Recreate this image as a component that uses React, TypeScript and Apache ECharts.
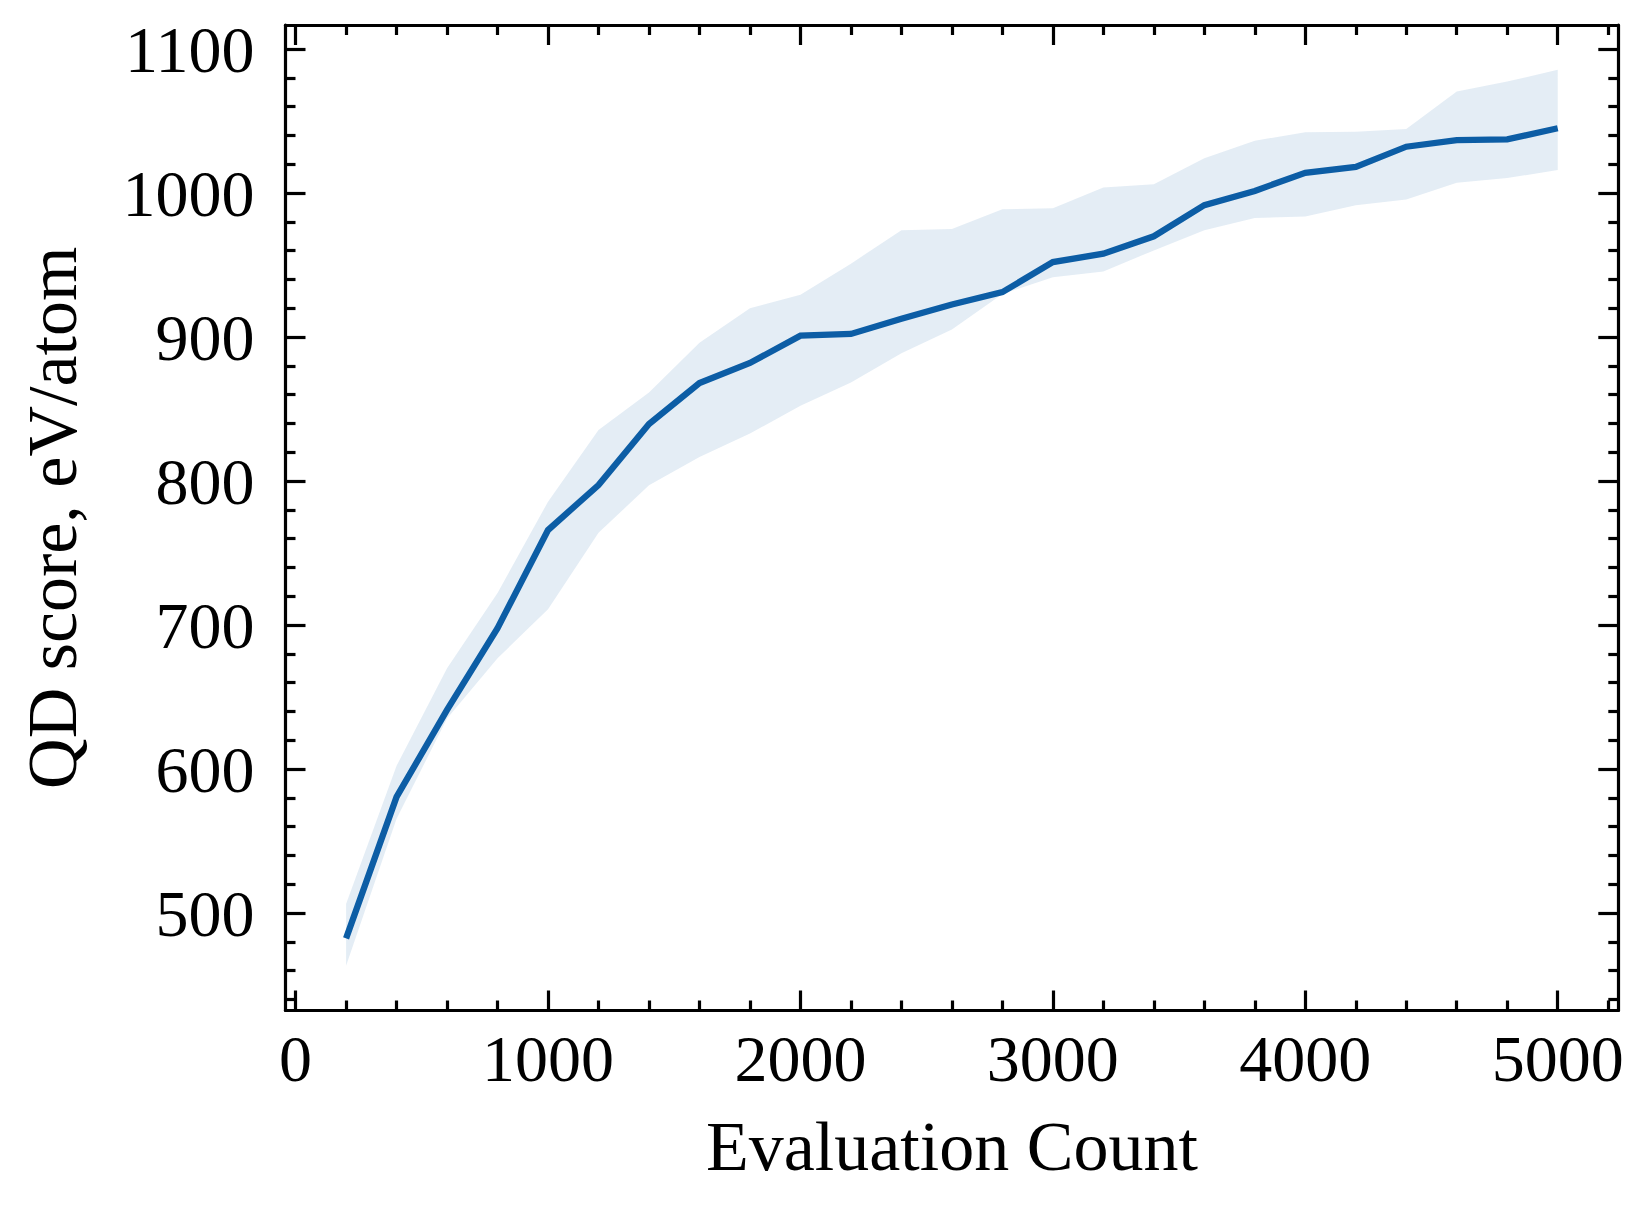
import React, { useEffect, useRef } from "react";
import * as echarts from "echarts";

// ---- Data ----
const evalCounts = [200, 400, 600, 800, 1000, 1200, 1400, 1600, 1800, 2000, 2200, 2400, 2600, 2800, 3000, 3200, 3400, 3600, 3800, 4000, 4200, 4400, 4600, 4800, 5000];
const meanScore = [482.5, 580.7, 641.1, 697.9, 766, 797.3, 839.6, 868.1, 882, 901, 902.2, 912.7, 922.6, 931.2, 952.1, 957.9, 970, 991.6, 1001.5, 1014.1, 1018.2, 1032.2, 1036.8, 1037.3, 1045];
const upperScore = [506.4, 602.3, 670, 722.3, 785.7, 835.4, 861.6, 896, 920.1, 929.4, 951, 974.2, 975.1, 988.8, 989.5, 1003.9, 1006.2, 1024.1, 1036.4, 1042.2, 1042.6, 1044.5, 1070.5, 1077.4, 1085.6];
const lowerScore = [463.5, 565.6, 635.2, 677, 711, 764.1, 797.1, 816.8, 833, 852.3, 868.5, 888.7, 905.2, 930, 941.6, 945.6, 960.2, 974.2, 982.7, 983.7, 991.6, 995.5, 1007.1, 1010.4, 1016];

// ---- Tick labels ----
const xMajorTicks = [0, 1000, 2000, 3000, 4000, 5000];
const yMajorTicks = [500, 600, 700, 800, 900, 1000, 1100];

const xLabel = "Evaluation Count";
const yLabel = "QD score, eV/atom";

const LINE_COLOR = "#0C5DA5";
const FONT = "'Liberation Serif', 'Times New Roman', serif";

function minorsOf(majors: number[], step: number, lo: number, hi: number): number[] {
  const out: number[] = [];
  const start = Math.ceil(lo / step) * step;
  for (let v = start; v <= hi + 1e-9; v += step) {
    const r = Math.round(v * 1000) / 1000;
    if (!majors.some((m) => Math.abs(m - r) < 1e-6)) out.push(r);
  }
  return out;
}

export default function App() {
  const ref = useRef<HTMLDivElement>(null);

  useEffect(() => {
    if (!ref.current) return;
    const chart = echarts.init(ref.current, undefined, { renderer: "svg" });

    // matplotlib-like 5% margins
    const xLo = Math.min(...evalCounts), xHi = Math.max(...evalCounts);
    const xPad = (xHi - xLo) * 0.05;
    const xMin = xLo - xPad, xMax = xHi + xPad;
    const yLo = Math.min(...lowerScore), yHi = Math.max(...upperScore);
    const yPad = (yHi - yLo) * 0.05;
    const yMin = yLo - yPad, yMax = yHi + yPad;

    const xMinor = minorsOf(xMajorTicks, 200, xMin, xMax);
    const yMinor = minorsOf(yMajorTicks, 20, yMin, yMax);

    const AX_W = 3.2;
    const MAJ_LEN = 20;
    const MIN_LEN = 10;

    const mkX = (position: "top" | "bottom", ticks: number[], len: number, main: boolean): any => ({
      type: "value",
      position,
      min: xMin,
      max: xMax,
      offset: 0,
      gridIndex: 0,
      axisLine: { show: main, onZero: false, lineStyle: { color: "#000", width: AX_W } },
      axisTick: { show: true, inside: true, length: len, customValues: ticks, lineStyle: { color: "#000", width: AX_W } },
      axisLabel: main && position === "bottom"
        ? { show: true, customValues: xMajorTicks, margin: 15, color: "#000", fontFamily: FONT, fontSize: 66, formatter: (v: number) => String(v) }
        : { show: false },
      splitLine: { show: false },
      minorTick: { show: false },
      name: main && position === "bottom" ? xLabel : "",
      nameLocation: "middle",
      nameGap: 101,
      nameTextStyle: { color: "#000", fontFamily: FONT, fontSize: 70 },
    });

    const mkY = (position: "left" | "right", ticks: number[], len: number, main: boolean): any => ({
      type: "value",
      position,
      min: yMin,
      max: yMax,
      offset: 0,
      gridIndex: 0,
      axisLine: { show: main, onZero: false, lineStyle: { color: "#000", width: AX_W } },
      axisTick: { show: true, inside: true, length: len, customValues: ticks, lineStyle: { color: "#000", width: AX_W } },
      axisLabel: main && position === "left"
        ? { show: true, customValues: yMajorTicks, margin: 31, color: "#000", fontFamily: FONT, fontSize: 66, formatter: (v: number) => String(v) }
        : { show: false },
      splitLine: { show: false },
      minorTick: { show: false },
      name: main && position === "left" ? yLabel : "",
      nameLocation: "middle",
      nameRotate: 90,
      nameGap: 198,
      nameTextStyle: { color: "#000", fontFamily: FONT, fontSize: 70 },
    });

    const bandData = evalCounts.map((x, i) => [x, lowerScore[i], upperScore[i]]);
    const meanData = evalCounts.map((x, i) => [x, meanScore[i]]);

    chart.setOption({
      animation: false,
      backgroundColor: "#ffffff",
      textStyle: { fontFamily: FONT },
      grid: {
        left: 285.5,
        top: 25,
        width: 1332.8,
        height: 985.5,
        containLabel: false,
        outerBoundsMode: "none",
      },
      xAxis: [
        mkX("bottom", xMajorTicks, MAJ_LEN, true),
        mkX("bottom", xMinor, MIN_LEN, false),
        mkX("top", xMajorTicks, MAJ_LEN, true),
        mkX("top", xMinor, MIN_LEN, false),
      ],
      yAxis: [
        mkY("left", yMajorTicks, MAJ_LEN, true),
        mkY("left", yMinor, MIN_LEN, false),
        mkY("right", yMajorTicks, MAJ_LEN, true),
        mkY("right", yMinor, MIN_LEN, false),
      ],
      series: [
        {
          type: "custom",
          name: "band",
          xAxisIndex: 0,
          yAxisIndex: 0,
          data: bandData,
          encode: { x: 0, y: [1, 2] },
          silent: true,
          z: 1,
          renderItem: (params: any, api: any) => {
            if (params.dataIndex !== 0) return null;
            const top = bandData.map((d) => api.coord([d[0], d[2]]));
            const bottom = bandData.map((d) => api.coord([d[0], d[1]])).reverse();
            return {
              type: "polygon",
              shape: { points: top.concat(bottom) },
              style: { fill: "rgba(12,93,165,0.11)", stroke: "none" },
            };
          },
        },
        {
          type: "line",
          name: "mean",
          xAxisIndex: 0,
          yAxisIndex: 0,
          data: meanData,
          symbol: "none",
          silent: true,
          lineStyle: { color: LINE_COLOR, width: 6.3, cap: "butt", join: "miter" },
          itemStyle: { color: LINE_COLOR },
          z: 3,
        },
      ],
    });

    return () => chart.dispose();
  }, []);

  return (
    <div
      ref={ref}
      style={{ position: "absolute", left: 0, top: 0, width: 1651, height: 1210, background: "#fff" }}
    />
  );
}
